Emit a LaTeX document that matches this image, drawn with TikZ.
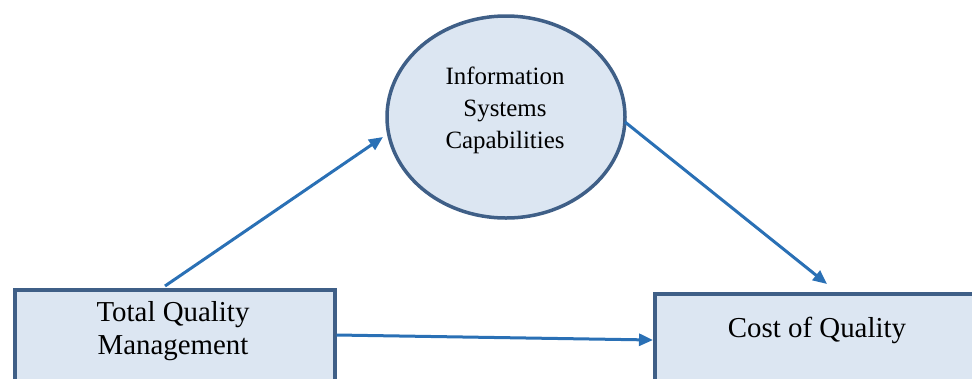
\documentclass[tikz,border=0pt]{standalone}
\usepackage{fontspec}
\setmainfont{Liberation Serif}
\usetikzlibrary{arrows.meta,calc,shapes.geometric}
\definecolor{boxfill}{HTML}{DCE6F2}
\definecolor{boxline}{HTML}{3F5F87}
\definecolor{arrowcol}{HTML}{2A70B5}
\tikzset{
  boxnode/.style={draw=boxline, fill=boxfill, line width=3.5bp, rectangle, inner sep=0pt},
  ellnode/.style={draw=boxline, fill=boxfill, line width=3.5bp, ellipse, inner sep=0pt, minimum width=238bp, minimum height=202bp},
  bigtxt/.style={align=center, inner sep=0pt, font=\fontsize{29}{33}\selectfont},
  smalltxt/.style={align=center, inner sep=0pt, font=\fontsize{25}{32}\selectfont},
  conn/.style={draw=arrowcol, line width=3bp, -{Triangle[length=14bp,width=12bp]}}
}
\begin{document}
\begin{tikzpicture}[x=1bp,y=-1bp]
\useasboundingbox (0,0) rectangle (972,378);
\node[boxnode, anchor=north west, minimum width=320bp, minimum height=120bp] (tqm) at (13,288) {};
\node[bigtxt] (tqmtxt) at (173,331) {Total Quality\\Management};
\node[boxnode, anchor=north west, minimum width=340bp, minimum height=120bp] (coq) at (653,292) {};
\node[bigtxt] (coqtxt) at (817,330) {Cost of Quality};
\node[ellnode] (isc) at (506,117) {};
\node[smalltxt] (isctxt) at (505,110) {Information\\Systems\\Capabilities};
\coordinate (a1s) at ($(tqm.north west)+(152,-2)$);
\coordinate (a1e) at (383,137);
\coordinate (a2s) at (625,122);
\coordinate (a2e) at ($(coq.north west)+(174,-8)$);
\coordinate (a3s) at ($(tqm.north east)+(0,47)$);
\coordinate (a3e) at ($(coq.north west)+(0,48)$);
\draw[conn] (a1s) -- (a1e);
\draw[conn] (a2s) -- (a2e);
\draw[conn] (a3s) -- (a3e);
\end{tikzpicture}
\end{document}
